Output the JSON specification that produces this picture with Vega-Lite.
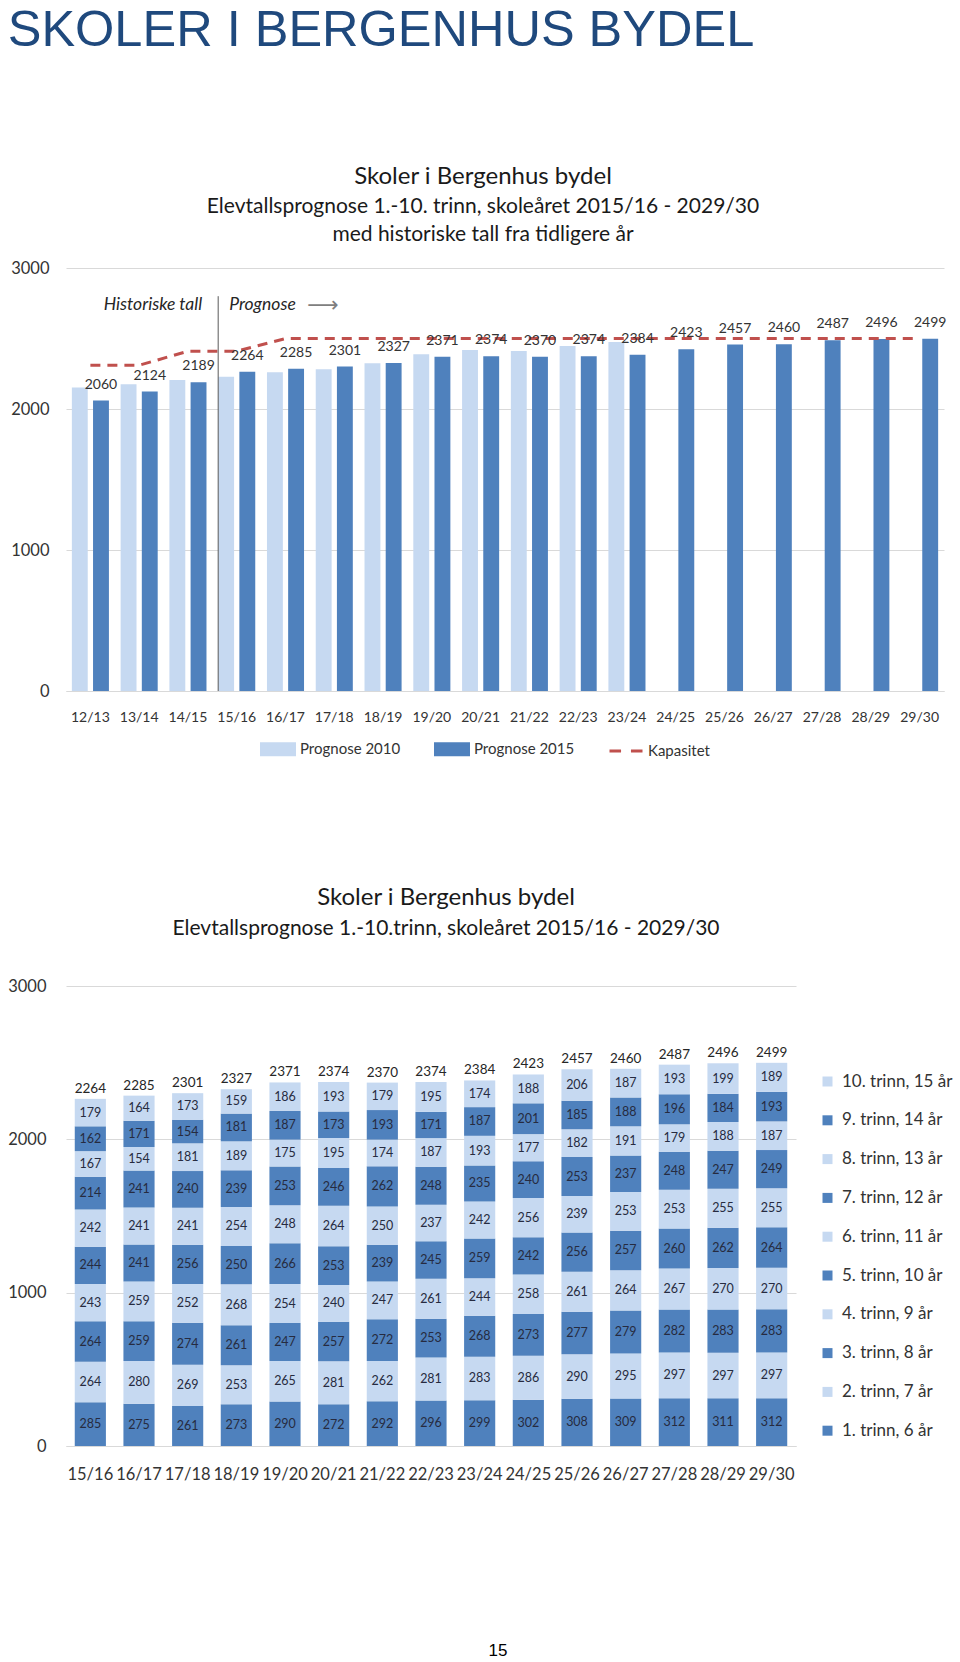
{
  "$schema": "https://vega.github.io/schema/vega-lite/v6.json",
  "padding": {"left": 7, "top": 6, "right": 0, "bottom": 0},
  "background": "white",
  "title": {"text": "SKOLER I BERGENHUS BYDEL", "anchor": "start", "font": "Liberation Sans", "fontSize": 50.5, "fontWeight": "normal", "color": "#1F497D", "offset": 108},
  "config": {
    "view": {"stroke": null},
    "font": "Lato",
    "axis": {"labelFont": "Lato", "title": null},
    "legend": {"labelFont": "Lato"}
  },
  "spacing": 125,
  "resolve": {"scale": {"color": "independent"}, "legend": {"color": "independent"}},
  "datasets": {
    "top": [
      {"year": "12/13", "serie": "Prognose 2010", "value": 2152},
      {"year": "13/14", "serie": "Prognose 2010", "value": 2176},
      {"year": "14/15", "serie": "Prognose 2010", "value": 2205},
      {"year": "15/16", "serie": "Prognose 2010", "value": 2228},
      {"year": "16/17", "serie": "Prognose 2010", "value": 2261},
      {"year": "17/18", "serie": "Prognose 2010", "value": 2282},
      {"year": "18/19", "serie": "Prognose 2010", "value": 2325},
      {"year": "19/20", "serie": "Prognose 2010", "value": 2388},
      {"year": "20/21", "serie": "Prognose 2010", "value": 2418},
      {"year": "21/22", "serie": "Prognose 2010", "value": 2411},
      {"year": "22/23", "serie": "Prognose 2010", "value": 2447},
      {"year": "23/24", "serie": "Prognose 2010", "value": 2475},
      {"year": "12/13", "serie": "Prognose 2015", "value": 2060},
      {"year": "13/14", "serie": "Prognose 2015", "value": 2124},
      {"year": "14/15", "serie": "Prognose 2015", "value": 2189},
      {"year": "15/16", "serie": "Prognose 2015", "value": 2264},
      {"year": "16/17", "serie": "Prognose 2015", "value": 2285},
      {"year": "17/18", "serie": "Prognose 2015", "value": 2301},
      {"year": "18/19", "serie": "Prognose 2015", "value": 2327},
      {"year": "19/20", "serie": "Prognose 2015", "value": 2371},
      {"year": "20/21", "serie": "Prognose 2015", "value": 2374},
      {"year": "21/22", "serie": "Prognose 2015", "value": 2370},
      {"year": "22/23", "serie": "Prognose 2015", "value": 2374},
      {"year": "23/24", "serie": "Prognose 2015", "value": 2384},
      {"year": "24/25", "serie": "Prognose 2015", "value": 2423},
      {"year": "25/26", "serie": "Prognose 2015", "value": 2457},
      {"year": "26/27", "serie": "Prognose 2015", "value": 2460},
      {"year": "27/28", "serie": "Prognose 2015", "value": 2487},
      {"year": "28/29", "serie": "Prognose 2015", "value": 2496},
      {"year": "29/30", "serie": "Prognose 2015", "value": 2499}
    ],
    "kap": [
      {"year": "12/13", "serie": "Kapasitet", "value": 2310},
      {"year": "13/14", "serie": "Kapasitet", "value": 2310},
      {"year": "14/15", "serie": "Kapasitet", "value": 2410},
      {"year": "15/16", "serie": "Kapasitet", "value": 2410},
      {"year": "16/17", "serie": "Kapasitet", "value": 2500},
      {"year": "17/18", "serie": "Kapasitet", "value": 2500},
      {"year": "18/19", "serie": "Kapasitet", "value": 2500},
      {"year": "19/20", "serie": "Kapasitet", "value": 2500},
      {"year": "20/21", "serie": "Kapasitet", "value": 2500},
      {"year": "21/22", "serie": "Kapasitet", "value": 2500},
      {"year": "22/23", "serie": "Kapasitet", "value": 2500},
      {"year": "23/24", "serie": "Kapasitet", "value": 2500},
      {"year": "24/25", "serie": "Kapasitet", "value": 2500},
      {"year": "25/26", "serie": "Kapasitet", "value": 2500},
      {"year": "26/27", "serie": "Kapasitet", "value": 2500},
      {"year": "27/28", "serie": "Kapasitet", "value": 2500},
      {"year": "28/29", "serie": "Kapasitet", "value": 2500},
      {"year": "29/30", "serie": "Kapasitet", "value": 2500}
    ],
    "labels": [
      {"n": 1, "label": "1. trinn, 6 år"},
      {"n": 2, "label": "2. trinn, 7 år"},
      {"n": 3, "label": "3. trinn, 8 år"},
      {"n": 4, "label": "4. trinn, 9 år"},
      {"n": 5, "label": "5. trinn, 10 år"},
      {"n": 6, "label": "6. trinn, 11 år"},
      {"n": 7, "label": "7. trinn, 12 år"},
      {"n": 8, "label": "8. trinn, 13 år"},
      {"n": 9, "label": "9. trinn, 14 år"},
      {"n": 10, "label": "10. trinn, 15 år"}
    ],
    "tot": [
      {"year": "15/16", "total": 2264}, {"year": "16/17", "total": 2285}, {"year": "17/18", "total": 2301},
      {"year": "18/19", "total": 2327}, {"year": "19/20", "total": 2371}, {"year": "20/21", "total": 2374},
      {"year": "21/22", "total": 2370}, {"year": "22/23", "total": 2374}, {"year": "23/24", "total": 2384},
      {"year": "24/25", "total": 2423}, {"year": "25/26", "total": 2457}, {"year": "26/27", "total": 2460},
      {"year": "27/28", "total": 2487}, {"year": "28/29", "total": 2496}, {"year": "29/30", "total": 2499}
    ],
    "seg": [
      {"year": "15/16", "n": 1, "v": 285}, {"year": "15/16", "n": 2, "v": 264}, {"year": "15/16", "n": 3, "v": 264}, {"year": "15/16", "n": 4, "v": 243}, {"year": "15/16", "n": 5, "v": 244}, {"year": "15/16", "n": 6, "v": 242}, {"year": "15/16", "n": 7, "v": 214}, {"year": "15/16", "n": 8, "v": 167}, {"year": "15/16", "n": 9, "v": 162}, {"year": "15/16", "n": 10, "v": 179},
      {"year": "16/17", "n": 1, "v": 275}, {"year": "16/17", "n": 2, "v": 280}, {"year": "16/17", "n": 3, "v": 259}, {"year": "16/17", "n": 4, "v": 259}, {"year": "16/17", "n": 5, "v": 241}, {"year": "16/17", "n": 6, "v": 241}, {"year": "16/17", "n": 7, "v": 241}, {"year": "16/17", "n": 8, "v": 154}, {"year": "16/17", "n": 9, "v": 171}, {"year": "16/17", "n": 10, "v": 164},
      {"year": "17/18", "n": 1, "v": 261}, {"year": "17/18", "n": 2, "v": 269}, {"year": "17/18", "n": 3, "v": 274}, {"year": "17/18", "n": 4, "v": 252}, {"year": "17/18", "n": 5, "v": 256}, {"year": "17/18", "n": 6, "v": 241}, {"year": "17/18", "n": 7, "v": 240}, {"year": "17/18", "n": 8, "v": 181}, {"year": "17/18", "n": 9, "v": 154}, {"year": "17/18", "n": 10, "v": 173},
      {"year": "18/19", "n": 1, "v": 273}, {"year": "18/19", "n": 2, "v": 253}, {"year": "18/19", "n": 3, "v": 261}, {"year": "18/19", "n": 4, "v": 268}, {"year": "18/19", "n": 5, "v": 250}, {"year": "18/19", "n": 6, "v": 254}, {"year": "18/19", "n": 7, "v": 239}, {"year": "18/19", "n": 8, "v": 189}, {"year": "18/19", "n": 9, "v": 181}, {"year": "18/19", "n": 10, "v": 159},
      {"year": "19/20", "n": 1, "v": 290}, {"year": "19/20", "n": 2, "v": 265}, {"year": "19/20", "n": 3, "v": 247}, {"year": "19/20", "n": 4, "v": 254}, {"year": "19/20", "n": 5, "v": 266}, {"year": "19/20", "n": 6, "v": 248}, {"year": "19/20", "n": 7, "v": 253}, {"year": "19/20", "n": 8, "v": 175}, {"year": "19/20", "n": 9, "v": 187}, {"year": "19/20", "n": 10, "v": 186},
      {"year": "20/21", "n": 1, "v": 272}, {"year": "20/21", "n": 2, "v": 281}, {"year": "20/21", "n": 3, "v": 257}, {"year": "20/21", "n": 4, "v": 240}, {"year": "20/21", "n": 5, "v": 253}, {"year": "20/21", "n": 6, "v": 264}, {"year": "20/21", "n": 7, "v": 246}, {"year": "20/21", "n": 8, "v": 195}, {"year": "20/21", "n": 9, "v": 173}, {"year": "20/21", "n": 10, "v": 193},
      {"year": "21/22", "n": 1, "v": 292}, {"year": "21/22", "n": 2, "v": 262}, {"year": "21/22", "n": 3, "v": 272}, {"year": "21/22", "n": 4, "v": 247}, {"year": "21/22", "n": 5, "v": 239}, {"year": "21/22", "n": 6, "v": 250}, {"year": "21/22", "n": 7, "v": 262}, {"year": "21/22", "n": 8, "v": 174}, {"year": "21/22", "n": 9, "v": 193}, {"year": "21/22", "n": 10, "v": 179},
      {"year": "22/23", "n": 1, "v": 296}, {"year": "22/23", "n": 2, "v": 281}, {"year": "22/23", "n": 3, "v": 253}, {"year": "22/23", "n": 4, "v": 261}, {"year": "22/23", "n": 5, "v": 245}, {"year": "22/23", "n": 6, "v": 237}, {"year": "22/23", "n": 7, "v": 248}, {"year": "22/23", "n": 8, "v": 187}, {"year": "22/23", "n": 9, "v": 171}, {"year": "22/23", "n": 10, "v": 195},
      {"year": "23/24", "n": 1, "v": 299}, {"year": "23/24", "n": 2, "v": 283}, {"year": "23/24", "n": 3, "v": 268}, {"year": "23/24", "n": 4, "v": 244}, {"year": "23/24", "n": 5, "v": 259}, {"year": "23/24", "n": 6, "v": 242}, {"year": "23/24", "n": 7, "v": 235}, {"year": "23/24", "n": 8, "v": 193}, {"year": "23/24", "n": 9, "v": 187}, {"year": "23/24", "n": 10, "v": 174},
      {"year": "24/25", "n": 1, "v": 302}, {"year": "24/25", "n": 2, "v": 286}, {"year": "24/25", "n": 3, "v": 273}, {"year": "24/25", "n": 4, "v": 258}, {"year": "24/25", "n": 5, "v": 242}, {"year": "24/25", "n": 6, "v": 256}, {"year": "24/25", "n": 7, "v": 240}, {"year": "24/25", "n": 8, "v": 177}, {"year": "24/25", "n": 9, "v": 201}, {"year": "24/25", "n": 10, "v": 188},
      {"year": "25/26", "n": 1, "v": 308}, {"year": "25/26", "n": 2, "v": 290}, {"year": "25/26", "n": 3, "v": 277}, {"year": "25/26", "n": 4, "v": 261}, {"year": "25/26", "n": 5, "v": 256}, {"year": "25/26", "n": 6, "v": 239}, {"year": "25/26", "n": 7, "v": 253}, {"year": "25/26", "n": 8, "v": 182}, {"year": "25/26", "n": 9, "v": 185}, {"year": "25/26", "n": 10, "v": 206},
      {"year": "26/27", "n": 1, "v": 309}, {"year": "26/27", "n": 2, "v": 295}, {"year": "26/27", "n": 3, "v": 279}, {"year": "26/27", "n": 4, "v": 264}, {"year": "26/27", "n": 5, "v": 257}, {"year": "26/27", "n": 6, "v": 253}, {"year": "26/27", "n": 7, "v": 237}, {"year": "26/27", "n": 8, "v": 191}, {"year": "26/27", "n": 9, "v": 188}, {"year": "26/27", "n": 10, "v": 187},
      {"year": "27/28", "n": 1, "v": 312}, {"year": "27/28", "n": 2, "v": 297}, {"year": "27/28", "n": 3, "v": 282}, {"year": "27/28", "n": 4, "v": 267}, {"year": "27/28", "n": 5, "v": 260}, {"year": "27/28", "n": 6, "v": 253}, {"year": "27/28", "n": 7, "v": 248}, {"year": "27/28", "n": 8, "v": 179}, {"year": "27/28", "n": 9, "v": 196}, {"year": "27/28", "n": 10, "v": 193},
      {"year": "28/29", "n": 1, "v": 311}, {"year": "28/29", "n": 2, "v": 297}, {"year": "28/29", "n": 3, "v": 283}, {"year": "28/29", "n": 4, "v": 270}, {"year": "28/29", "n": 5, "v": 262}, {"year": "28/29", "n": 6, "v": 255}, {"year": "28/29", "n": 7, "v": 247}, {"year": "28/29", "n": 8, "v": 188}, {"year": "28/29", "n": 9, "v": 184}, {"year": "28/29", "n": 10, "v": 199},
      {"year": "29/30", "n": 1, "v": 312}, {"year": "29/30", "n": 2, "v": 297}, {"year": "29/30", "n": 3, "v": 283}, {"year": "29/30", "n": 4, "v": 270}, {"year": "29/30", "n": 5, "v": 264}, {"year": "29/30", "n": 6, "v": 255}, {"year": "29/30", "n": 7, "v": 249}, {"year": "29/30", "n": 8, "v": 187}, {"year": "29/30", "n": 9, "v": 193}, {"year": "29/30", "n": 10, "v": 189}
    ]
  },
  "vconcat": [
    {
      "width": 878,
      "height": 423,
      "title": {"text": "Skoler i Bergenhus bydel", "subtitle": ["Elevtallsprognose 1.-10. trinn, skoleåret 2015/16 - 2029/30", "med historiske tall fra tidligere år"], "font": "Lato", "subtitleFont": "Lato", "fontSize": 24, "subtitleFontSize": 21, "fontWeight": "normal", "color": "#1a1a1a", "subtitleColor": "#1a1a1a", "anchor": "middle", "frame": "group", "dx": -22, "offset": 15, "subtitlePadding": 7, "subtitleLineHeight": 28.5},
      "layer": [
        {
          "data": {"name": "top"},
          "mark": {"type": "bar"},
          "encoding": {
            "x": {"field": "year", "type": "nominal", "scale": {"domain": ["12/13", "13/14", "14/15", "15/16", "16/17", "17/18", "18/19", "19/20", "20/21", "21/22", "22/23", "23/24", "24/25", "25/26", "26/27", "27/28", "28/29", "29/30"], "paddingInner": 0.24, "paddingOuter": 0.12}, "axis": {"labelAngle": 0, "ticks": false, "domain": true, "domainColor": "#D9D9D9", "labelPadding": 19, "labelFontSize": 14, "labelColor": "#333333", "labelOverlap": false}},
            "y": {"field": "value", "type": "quantitative", "scale": {"domain": [0, 3000], "nice": false}, "axis": {"values": [0, 1000, 2000, 3000], "format": "d", "grid": true, "gridColor": "#D9D9D9", "domain": false, "ticks": false, "labelPadding": 17, "labelFontSize": 16.5, "labelColor": "#333333"}},
            "xOffset": {"field": "serie", "type": "nominal", "scale": {"domain": ["Prognose 2010", "Prognose 2015"], "paddingInner": 0.25, "paddingOuter": 0}},
            "color": {"field": "serie", "type": "nominal", "scale": {"domain": ["Prognose 2010", "Prognose 2015", "Kapasitet"], "range": ["#C6D9F1", "#4F81BD", "#C0504D"]},
              "legend": {"orient": "none", "legendX": 194, "legendY": 463, "direction": "horizontal", "title": null, "labelFontSize": 15, "labelColor": "#333333", "labelOffset": 4, "columnPadding": 28, "symbolSize": 1089, "symbolType": "M-1,-0.333H1V0.333H-1Z",
                "encode": {"symbols": {"update": {
                  "shape": {"signal": "datum.value === 'Kapasitet' ? 'M-1,0H-0.3M0.3,0H1' : 'M-1,-0.333H1V0.333H-1Z'"},
                  "fill": {"signal": "datum.value === 'Kapasitet' ? 'transparent' : (datum.value === 'Prognose 2010' ? '#C6D9F1' : '#4F81BD')"},
                  "stroke": {"signal": "datum.value === 'Kapasitet' ? '#C0504D' : 'transparent'"},
                  "strokeWidth": {"value": 3},
                  "opacity": {"value": 1}
                }}}}}
          }
        },
        {
          "data": {"name": "kap"},
          "mark": {"type": "line", "strokeDash": [10, 7], "strokeWidth": 3},
          "encoding": {
            "x": {"field": "year", "type": "nominal", "scale": {"domain": ["12/13", "13/14", "14/15", "15/16", "16/17", "17/18", "18/19", "19/20", "20/21", "21/22", "22/23", "23/24", "24/25", "25/26", "26/27", "27/28", "28/29", "29/30"], "paddingInner": 0.24, "paddingOuter": 0.12}},
            "y": {"field": "value", "type": "quantitative", "scale": {"domain": [0, 3000], "nice": false}},
            "color": {"field": "serie", "type": "nominal", "scale": {"domain": ["Prognose 2010", "Prognose 2015", "Kapasitet"], "range": ["#C6D9F1", "#4F81BD", "#C0504D"]},
              "legend": {"orient": "none", "legendX": 194, "legendY": 463, "direction": "horizontal", "title": null, "labelFontSize": 15, "labelColor": "#333333", "labelOffset": 4, "columnPadding": 28, "symbolSize": 1089, "symbolType": "M-1,-0.333H1V0.333H-1Z",
                "encode": {"symbols": {"update": {
                  "shape": {"signal": "datum.value === 'Kapasitet' ? 'M-1,0H-0.3M0.3,0H1' : 'M-1,-0.333H1V0.333H-1Z'"},
                  "fill": {"signal": "datum.value === 'Kapasitet' ? 'transparent' : (datum.value === 'Prognose 2010' ? '#C6D9F1' : '#4F81BD')"},
                  "stroke": {"signal": "datum.value === 'Kapasitet' ? '#C0504D' : 'transparent'"},
                  "strokeWidth": {"value": 3},
                  "opacity": {"value": 1}
                }}}}}
          }
        },
        {
          "data": {"name": "top"},
          "transform": [{"filter": "datum.serie === 'Prognose 2015'"}],
          "mark": {"type": "text", "dy": -16, "fontSize": 14, "color": "#333333"},
          "encoding": {
            "x": {"field": "year", "type": "nominal", "scale": {"domain": ["12/13", "13/14", "14/15", "15/16", "16/17", "17/18", "18/19", "19/20", "20/21", "21/22", "22/23", "23/24", "24/25", "25/26", "26/27", "27/28", "28/29", "29/30"], "paddingInner": 0.24, "paddingOuter": 0.12}},
            "y": {"field": "value", "type": "quantitative", "scale": {"domain": [0, 3000], "nice": false}},
            "xOffset": {"field": "serie", "type": "nominal", "scale": {"domain": ["Prognose 2010", "Prognose 2015"], "paddingInner": 0.25, "paddingOuter": 0}},
            "text": {"field": "value", "type": "quantitative"}
          }
        },
        {
          "data": {"values": [{"label": "separator"}]},
          "mark": {"type": "rule", "color": "#595959", "strokeWidth": 1},
          "encoding": {
            "x": {"datum": "15/16", "type": "nominal", "bandPosition": 0},
            "y": {"datum": 0, "type": "quantitative"},
            "y2": {"datum": 2800}
          }
        },
        {
          "data": {"values": [{"label": "Historiske tall"}]},
          "mark": {"type": "text", "align": "right", "dx": -16, "fontStyle": "italic", "fontSize": 17.5, "color": "#262626"},
          "encoding": {"x": {"datum": "15/16", "type": "nominal", "bandPosition": 0}, "y": {"datum": 2735, "type": "quantitative"}, "text": {"field": "label"}}
        },
        {
          "data": {"values": [{"label": "Prognose"}]},
          "mark": {"type": "text", "align": "left", "dx": 11, "fontStyle": "italic", "fontSize": 17.5, "color": "#262626"},
          "encoding": {"x": {"datum": "15/16", "type": "nominal", "bandPosition": 0}, "y": {"datum": 2735, "type": "quantitative"}, "text": {"field": "label"}}
        },
        {
          "data": {"values": [{"label": "⟶"}]},
          "mark": {"type": "text", "align": "left", "dx": 89, "fontSize": 22, "font": "DejaVu Sans", "color": "#7F7F7F"},
          "encoding": {"x": {"datum": "15/16", "type": "nominal", "bandPosition": 0}, "y": {"datum": 2735, "type": "quantitative"}, "text": {"field": "label"}}
        }
      ]
    },
    {
      "width": 730,
      "height": 460,
      "title": {"text": "Skoler i Bergenhus bydel", "subtitle": "Elevtallsprognose 1.-10.trinn, skoleåret 2015/16 - 2029/30", "font": "Lato", "subtitleFont": "Lato", "fontSize": 24, "subtitleFontSize": 21, "fontWeight": "normal", "color": "#1a1a1a", "subtitleColor": "#1a1a1a", "anchor": "middle", "frame": "group", "dx": 15, "offset": 39, "subtitlePadding": 8},
      "encoding": {
        "x": {"field": "year", "type": "nominal", "scale": {"domain": ["15/16", "16/17", "17/18", "18/19", "19/20", "20/21", "21/22", "22/23", "23/24", "24/25", "25/26", "26/27", "27/28", "28/29", "29/30"], "paddingInner": 0.36, "paddingOuter": 0.18}, "axis": {"labelAngle": 0, "ticks": false, "domain": true, "domainColor": "#D9D9D9", "labelPadding": 20, "labelFontSize": 16.5, "labelColor": "#333333", "labelOverlap": false}}
      },
      "layer": [
        {
          "data": {"name": "seg"},
          "transform": [{"lookup": "n", "from": {"data": {"name": "labels"}, "key": "n", "fields": ["label"]}}],
          "mark": {"type": "bar"},
          "encoding": {
            "y": {"field": "v", "type": "quantitative", "stack": "zero", "scale": {"domain": [0, 3000], "nice": false}, "axis": {"values": [0, 1000, 2000, 3000], "format": "d", "grid": true, "gridColor": "#D9D9D9", "domain": false, "ticks": false, "labelPadding": 20, "labelFontSize": 16.5, "labelColor": "#333333"}},
            "color": {"field": "label", "type": "nominal",
              "scale": {"domain": ["10. trinn, 15 år", "9. trinn, 14 år", "8. trinn, 13 år", "7. trinn, 12 år", "6. trinn, 11 år", "5. trinn, 10 år", "4. trinn, 9 år", "3. trinn, 8 år", "2. trinn, 7 år", "1. trinn, 6 år"],
                "range": ["#C6D9F1", "#4F81BD", "#C6D9F1", "#4F81BD", "#C6D9F1", "#4F81BD", "#C6D9F1", "#4F81BD", "#C6D9F1", "#4F81BD"]},
              "legend": {"orient": "none", "legendX": 753, "legendY": 87, "direction": "vertical", "title": null, "symbolType": "square", "symbolSize": 100, "symbolStrokeWidth": 0, "labelFontSize": 17, "labelColor": "#333333", "labelOffset": 6, "rowPadding": 20.8}},
            "order": {"field": "n", "type": "quantitative", "sort": "ascending"}
          }
        },
        {
          "data": {"name": "seg"},
          "transform": [
            {"stack": "v", "groupby": ["year"], "sort": [{"field": "n", "order": "ascending"}], "as": ["v0", "v1"]},
            {"fold": ["v0", "v1"], "as": ["k", "pos"]}
          ],
          "mark": {"type": "text", "fontSize": 12.5, "color": "#262B40"},
          "encoding": {
            "y": {"field": "pos", "type": "quantitative", "aggregate": "mean", "stack": null},
            "detail": {"field": "n", "type": "nominal"},
            "text": {"field": "v", "type": "quantitative"}
          }
        },
        {
          "data": {"name": "tot"},
          "mark": {"type": "text", "fontSize": 13.5, "color": "#262626", "baseline": "bottom", "dy": -3},
          "encoding": {
            "y": {"field": "total", "type": "quantitative"},
            "text": {"field": "total", "type": "quantitative"}
          }
        }
      ]
    },
    {
      "width": 864,
      "height": 10,
      "data": {"values": [{"p": "15"}]},
      "mark": {"type": "text", "font": "Liberation Sans", "fontSize": 17, "dy": 38, "color": "#000000"},
      "encoding": {"text": {"field": "p"}}
    }
  ]
}
